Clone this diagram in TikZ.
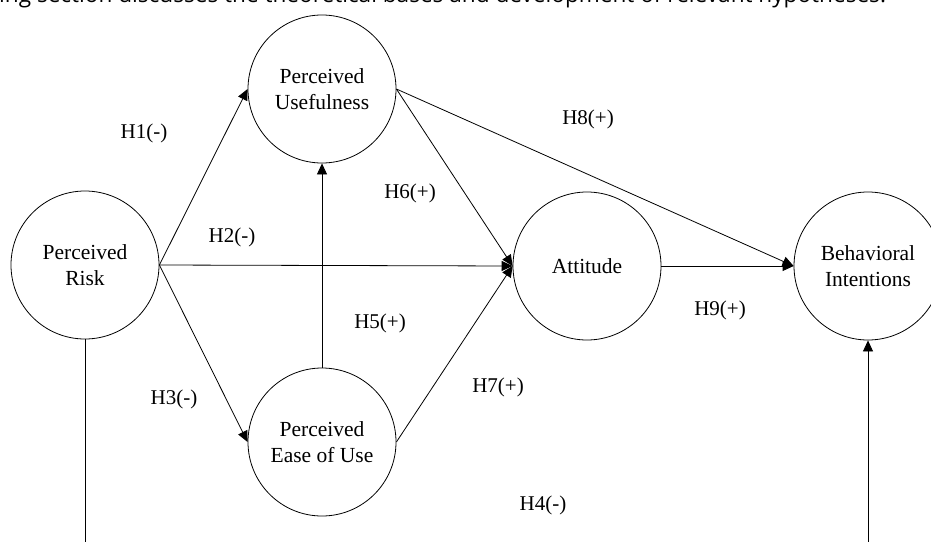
\documentclass[tikz,border=0pt]{standalone}
\usepackage{fontspec}
\setmainfont{Liberation Serif}
\newfontfamily\topfont{Open Sans}
\usetikzlibrary{arrows.meta}
\tikzset{
  construct/.style={circle, draw, line width=0.8pt, minimum size=148pt, inner sep=0pt, align=center, font=\fontsize{21.5}{26}\selectfont},
  hyp/.style={font=\fontsize{21}{24}\selectfont, inner sep=0pt},
  link/.style={line width=0.8pt, -{Triangle[length=11pt,width=10pt]}},
  plain/.style={line width=0.8pt}
}
\begin{document}
\begin{tikzpicture}[x=1pt,y=-1pt]
\useasboundingbox (0,0) rectangle (931,541);
\clip (0,0) rectangle (931,541);
\node[anchor=base west, font=\topfont\fontsize{22.6}{26}\selectfont, inner sep=0pt] (top) at (-1,2.5) {ing section discusses the theoretical bases and development of relevant hypotheses.};
\node[construct] (risk) at (85,265) {Perceived\\Risk};
\node[construct] (pu) at (322,89) {Perceived\\Usefulness};
\node[construct] (att) at (587,266) {Attitude};
\node[construct] (bi) at (868,266) {Behavioral\\Intentions};
\node[construct] (peou) at (322,442) {Perceived\\Ease of Use};
\coordinate (c1) at (85,580);
\coordinate (c2) at (868,580);
\draw[link] (risk.east) -- (pu.west);
\draw[link] (risk.east) -- (att.west);
\draw[link] (risk.east) -- (peou.west);
\draw[link] (peou.north) -- (pu.south);
\draw[link] (pu.east) -- (att.west);
\draw[link] (pu.east) -- (bi.west);
\draw[link] (peou.east) -- (att.west);
\draw[link] (att.east) -- (bi.west);
\draw[link] (risk.south) -- (c1) -- (c2) -- (bi.south);
\node[hyp] (h1) at (144,133) {H1(-)};
\node[hyp] (h2) at (232,237) {H2(-)};
\node[hyp] (h3) at (174,399) {H3(-)};
\node[hyp] (h4) at (543,505) {H4(-)};
\node[hyp] (h5) at (380,323) {H5(+)};
\node[hyp] (h6) at (410,193) {H6(+)};
\node[hyp] (h7) at (498,387) {H7(+)};
\node[hyp] (h8) at (588,119) {H8(+)};
\node[hyp] (h9) at (720,310) {H9(+)};
\end{tikzpicture}
\end{document}
